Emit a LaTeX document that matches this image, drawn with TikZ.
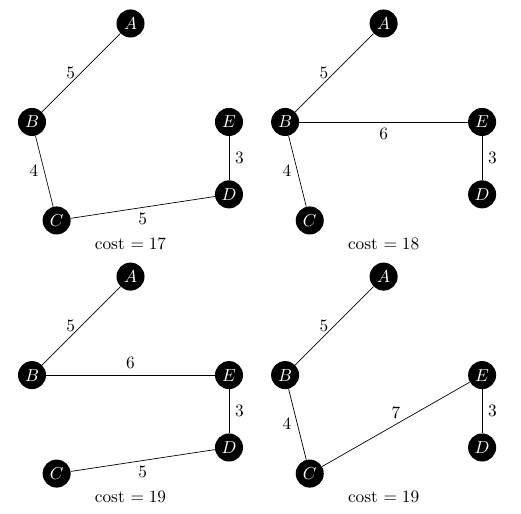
\documentclass[tikz,border=0pt]{standalone}
\usepackage{tikz}

\begin{document}
\begin{tikzpicture}[vert/.style={circle,fill=black,text=white,minimum size=16.2pt,inner sep=0pt}]
\useasboundingbox (-0.65,2.477) rectangle (9.93,-7.96);

% cost 17
\begin{scope}
\node[vert] (A1) at (2,2) {$A$};
\node[vert] (B1) at (0,0) {$B$};
\node[vert] (C1) at (0.5,-2) {$C$};
\node[vert] (D1) at (4,-1.47) {$D$};
\node[vert] (E1) at (4,0) {$E$};
\draw (B1) -- node[left] {$5$} (A1);
\draw (B1) -- node[left] {$4$} (C1);
\draw (E1) -- node[right] {$3$} (D1);
\draw (C1) -- node[below] {$5$} (D1);
\node (cost1) at (2,-2.48) {cost $=17$};
\end{scope}

% cost 18
\begin{scope}[shift={(5.14,0)}]
\node[vert] (A2) at (2,2) {$A$};
\node[vert] (B2) at (0,0) {$B$};
\node[vert] (C2) at (0.5,-2) {$C$};
\node[vert] (D2) at (4,-1.47) {$D$};
\node[vert] (E2) at (4,0) {$E$};
\draw (B2) -- node[left] {$5$} (A2);
\draw (B2) -- node[left] {$4$} (C2);
\draw (B2) -- node[below] {$6$} (E2);
\draw (E2) -- node[right] {$3$} (D2);
\node (cost2) at (2,-2.48) {cost $=18$};
\end{scope}

% cost 19
\begin{scope}[shift={(0,-5.14)}]
\node[vert] (A3) at (2,2) {$A$};
\node[vert] (B3) at (0,0) {$B$};
\node[vert] (C3) at (0.5,-2) {$C$};
\node[vert] (D3) at (4,-1.47) {$D$};
\node[vert] (E3) at (4,0) {$E$};
\draw (B3) -- node[left] {$5$} (A3);
\draw (B3) -- node[above] {$6$} (E3);
\draw (E3) -- node[right] {$3$} (D3);
\draw (C3) -- node[below] {$5$} (D3);
\node (cost3) at (2,-2.48) {cost $=19$};
\end{scope}

% cost 19
\begin{scope}[shift={(5.14,-5.14)}]
\node[vert] (A4) at (2,2) {$A$};
\node[vert] (B4) at (0,0) {$B$};
\node[vert] (C4) at (0.5,-2) {$C$};
\node[vert] (D4) at (4,-1.47) {$D$};
\node[vert] (E4) at (4,0) {$E$};
\draw (B4) -- node[left] {$5$} (A4);
\draw (B4) -- node[left] {$4$} (C4);
\draw (C4) -- node[above] {$7$} (E4);
\draw (E4) -- node[right] {$3$} (D4);
\node (cost4) at (2,-2.48) {cost $=19$};
\end{scope}
\end{tikzpicture}
\end{document}
